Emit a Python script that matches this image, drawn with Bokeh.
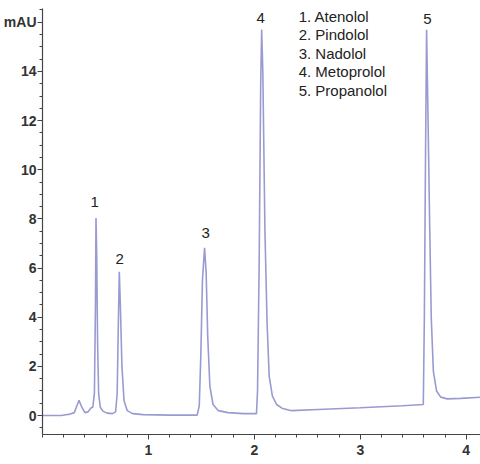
from bokeh.plotting import figure
from bokeh.models import FixedTicker, Label, Range1d
from bokeh.embed import file_html
from bokeh.resources import INLINE
import numpy as np

# Chromatogram trace (time in min, signal in mAU)
time = [0.00, 0.18, 0.22, 0.26, 0.30, 0.325, 0.345, 0.37, 0.40, 0.43, 0.455, 0.475,
        0.49, 0.50, 0.505, 0.512, 0.52, 0.53, 0.545, 0.57, 0.61, 0.66,
        0.69, 0.705, 0.715, 0.725, 0.735, 0.75, 0.77, 0.80, 0.85, 0.95, 1.20,
        1.46, 1.48, 1.495, 1.51, 1.53, 1.545, 1.56, 1.58, 1.61, 1.66, 1.75, 1.90,
        2.02, 2.03, 2.045, 2.06, 2.069, 2.08, 2.10, 2.12, 2.14, 2.17, 2.21, 2.26,
        2.35, 2.60, 3.00, 3.40, 3.595, 3.605, 3.615, 3.626, 3.64, 3.655, 3.67,
        3.69, 3.72, 3.76, 3.82, 3.95, 4.14]
signal = [0.00, 0.00, 0.03, 0.06, 0.12, 0.40, 0.62, 0.35, 0.12, 0.15, 0.30, 0.35,
          0.9, 4.5, 8.04, 6.5, 3.0, 0.9, 0.35, 0.18, 0.10, 0.08,
          0.15, 0.9, 3.5, 5.85, 4.5, 2.0, 0.6, 0.2, 0.08, 0.04, 0.02,
          0.02, 0.4, 2.5, 5.5, 6.83, 5.8, 3.2, 1.2, 0.45, 0.2, 0.12, 0.08,
          0.08, 1.0, 6.0, 13.5, 15.7, 14.0, 7.5, 3.8, 1.6, 0.8, 0.45, 0.3,
          0.2, 0.25, 0.32, 0.40, 0.45, 4.0, 10.0, 15.7, 12.0, 7.8, 4.0,
          1.8, 1.0, 0.75, 0.68, 0.70, 0.75]

# Peak annotations
peak_ids = ["1", "2", "3", "4", "5"]
peak_t = [0.493, 0.729, 1.54, 2.06, 3.635]
peak_label_y = [8.67, 6.35, 7.41, 16.16, 16.12]
compounds = ["1. Atenolol", "2. Pindolol", "3. Nadolol", "4. Metoprolol", "5. Propanolol"]

x_major = [1, 2, 3, 4]
y_major = [0, 2, 4, 6, 8, 10, 12, 14, 16]
y_unit = "mAU"

FONT = "Liberation Sans"
LINE = "#9a9ad2"
AX = "#444444"

p = figure(width=480, height=464, output_backend="svg", toolbar_location=None,
           x_range=Range1d(0, 4.135), y_range=Range1d(-0.77, 16.56),
           min_border_left=42, min_border_right=0, min_border_top=8, min_border_bottom=30)
p.outline_line_color = None
p.xgrid.visible = False
p.ygrid.visible = False
p.background_fill_color = "white"
p.border_fill_color = "white"

p.line(time, signal, line_color=LINE, line_width=1.6)

p.xaxis.ticker = FixedTicker(ticks=x_major, minor_ticks=list(np.round(np.arange(0, 4.2, 0.2), 2)))
p.yaxis.ticker = FixedTicker(ticks=y_major, minor_ticks=list(np.arange(-0.5, 16.6, 0.5)))
p.yaxis.major_label_overrides = {16: y_unit}

p.axis.axis_line_color = AX
p.axis.axis_line_width = 1.2
p.axis.major_tick_line_color = AX
p.axis.minor_tick_line_color = AX
p.axis.major_tick_out = 5
p.axis.major_tick_in = 0
p.axis.minor_tick_out = 3
p.axis.minor_tick_in = 0
p.axis.major_label_text_font = FONT
p.axis.major_label_text_font_style = "bold"
p.axis.major_label_text_font_size = "14px"
p.axis.major_label_text_color = "#333333"
p.xaxis.major_label_standoff = 5
p.yaxis.major_label_standoff = 1

for pid, t, y in zip(peak_ids, peak_t, peak_label_y):
    p.add_layout(Label(x=t, y=y, text=pid, text_align="center", text_baseline="middle",
                       text_font=FONT, text_font_size="15px", text_color="#222222"))

for i, name in enumerate(compounds):
    p.add_layout(Label(x=2.418, y=16.24 - i * 0.75, text=name, text_align="left",
                       text_baseline="middle", text_font=FONT, text_font_size="15px",
                       text_color="#222222"))

open("out.html", "w").write(file_html(p, INLINE))
